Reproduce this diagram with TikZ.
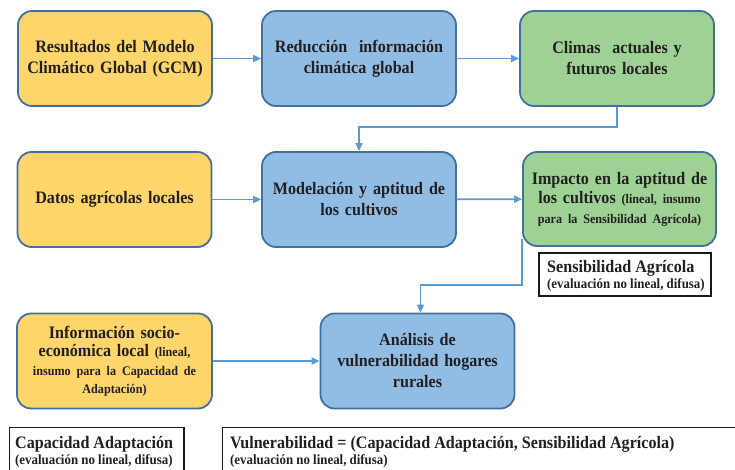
\documentclass[tikz,border=0pt]{standalone}
\usepackage{fontspec}
\setmainfont{Liberation Serif}[FakeStretch=0.92]
\usetikzlibrary{arrows.meta}
\definecolor{byel}{HTML}{FDD56B}
\definecolor{bblu}{HTML}{91BDE5}
\definecolor{bgrn}{HTML}{9ED194}
\definecolor{bedge}{HTML}{41719C}
\definecolor{arr}{HTML}{5B9BD5}
\definecolor{txt}{HTML}{231F20}
\newcommand{\smlfs}{\fontsize{14}{17}\selectfont}
\newcommand{\boxsml}{\fontsize{13.2}{16}\selectfont}
\begin{document}
\begin{tikzpicture}[x=1pt,y=-1pt,
  box/.style={draw=bedge,line width=1.8pt,rounded corners=14pt,minimum width=194pt,minimum height=95pt,align=center,text width=188pt,text=txt,font=\bfseries\fontsize{17.5}{21}\selectfont,inner sep=0pt},
  yb/.style={box,fill=byel},
  bb/.style={box,fill=bblu},
  gb/.style={box,fill=bgrn},
  lbox/.style={draw=black!90,line width=1.8pt,fill=white},
  ltext/.style={anchor=base west,inner sep=0pt,align=left,text=txt,font=\bfseries\fontsize{17.5}{16}\selectfont},
  conn/.style={draw=arr,line width=1.8pt,-{Triangle[length=8pt,width=7pt]}}]
\useasboundingbox (0,0) rectangle (735,470);
\clip (0,0) rectangle (735,470);
\fill[white] (0,0) rectangle (735,470);
% row 1
\node[yb] (c1) at (115,58.5) {Resultados del Modelo\\Climático Global (GCM)};
\node[bb] (c2) at (359,58.5) {Reducción\ \ información\\climática global};
\node[gb] (c3) at (617,58.5) {Climas\ \ actuales y\\futuros locales};
% row 2
\node[yb] (c4) at (114.5,199.5) {Datos agrícolas locales};
\node[bb] (c5) at (359,199.5) {Modelación y aptitud de\\los cultivos};
\node[gb,minimum width=193pt,minimum height=94pt,font=\bfseries\fontsize{17.5}{19.5}\selectfont] (c6) at (619.5,199) {Impacto en la aptitud de\\los cultivos {\boxsml(lineal, insumo}\\{\boxsml para la Sensibilidad Agrícola)}};
% row 3
\node[yb,minimum width=195pt,font=\bfseries\fontsize{17.5}{18.5}\selectfont] (c7) at (114.5,361) {Información socio-\\económica local {\boxsml(lineal,}\\{\boxsml insumo para la Capacidad de}\\{\boxsml Adaptación)}};
\node[bb] (c8) at (417.5,361) {Análisis de\\vulnerabilidad hogares\\rurales};
% label boxes
\node[lbox,minimum width=172pt,minimum height=43pt,inner sep=0pt] (s) at (625,274.5) {};
\node[ltext] (st) at (547,288) {Sensibilidad Agrícola\\{\smlfs(evaluación no lineal, difusa)}};
\draw[lbox] (9.5,427.5) rectangle (184,490);
\node[ltext] (ct) at (15,464) {Capacidad Adaptación\\{\smlfs(evaluación no lineal, difusa)}};
\draw[lbox] (222.5,427.5) rectangle (760,490);
\node[ltext] (vt) at (230,464) {Vulnerabilidad = (Capacidad Adaptación, Sensibilidad Agrícola)\\{\smlfs(evaluación no lineal, difusa)}};
% connectors
\draw[conn] (c1) -- (c2);
\draw[conn] (c2) -- (c3);
\draw[conn] (c3.south) -- ++(0,20) -| (c5.north);
\draw[conn] (c4) -- (c5);
\draw[conn] (c5) -- (c6);
\draw[conn] (c6.south west) ++(0,-8) -- ++(0,46) -| ([xshift=3pt]c8.north);
\draw[conn] (c7) -- (c8);
\end{tikzpicture}
\end{document}
